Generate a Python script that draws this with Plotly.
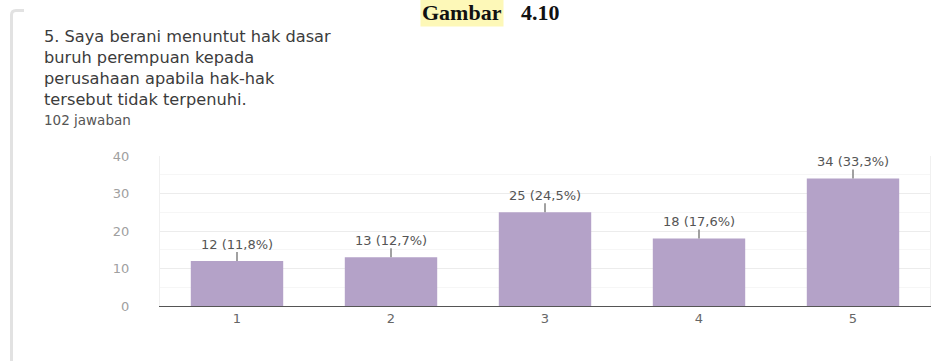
import plotly.graph_objects as go

# Survey responses for item 5 (scale 1-5), 102 answers in total
categories = ["1", "2", "3", "4", "5"]
counts = [12, 13, 25, 18, 34]
total_answers = 102
y_ticks = [0, 10, 20, 30, 40]

title_lines = [
    "5. Saya berani menuntut hak dasar",
    "buruh perempuan kepada",
    "perusahaan apabila hak-hak",
    "tersebut tidak terpenuhi.",
]
subtitle = f"{total_answers} jawaban"

W, H = 950, 361
ML, MR, MT, MB = 160, 20, 156, 55
PW, PH = W - ML - MR, H - MT - MB


def px(x):
    return (x - ML) / PW


def py(y):
    return (H - MB - y) / PH


bar_color = "#b4a2c8"
font_main = "DejaVu Sans"

fig = go.Figure(
    go.Bar(
        x=categories,
        y=counts,
        marker=dict(color=bar_color, line=dict(width=0)),
        hoverinfo="skip",
    )
)

annotations = []

# value labels with a short leader line above each bar
for i, n in enumerate(counts):
    pct = f"{n / total_answers * 100:.1f}".replace(".", ",")
    annotations.append(dict(
        x=i, y=n, xref="x", yref="y",
        text=f"{n} ({pct}%)",
        showarrow=True, arrowhead=0, arrowwidth=1.6, arrowcolor="#8a8a8a",
        ax=0, ay=-17, borderpad=0,
        font=dict(family=font_main, size=13, color="#555555"),
    ))

# question title (four lines)
annotations.append(dict(
    x=px(42), y=py(25), xref="paper", yref="paper",
    xanchor="left", yanchor="top", align="left", showarrow=False,
    text="<br>".join(title_lines),
    font=dict(family=font_main, size=16.2, color="#3c3c3c"),
))

annotations.append(dict(
    x=px(42), y=py(120), xref="paper", yref="paper",
    xanchor="left", yanchor="middle", showarrow=False,
    text=subtitle,
    font=dict(family=font_main, size=13.5, color="#555555"),
))

# figure caption at the top of the page
annotations.append(dict(
    x=px(420), y=py(-2), xref="paper", yref="paper",
    xanchor="left", yanchor="top", showarrow=False,
    text="<b>Gambar</b>", bgcolor="#fdf8b8", borderpad=1,
    font=dict(family="Liberation Serif", size=22, color="#111111"),
))
annotations.append(dict(
    x=px(519), y=py(-2), xref="paper", yref="paper",
    xanchor="left", yanchor="top", showarrow=False,
    text="<b>4.10</b>", borderpad=1,
    font=dict(family="Liberation Serif", size=22, color="#111111"),
))

# card outline on the left
shapes = [
    dict(
        type="path", xref="paper", yref="paper",
        path=f"M {px(11.5)},{py(361)} L {px(11.5)},{py(15)} "
             f"Q {px(11.5)},{py(10.5)} {px(16)},{py(10.5)} L {px(24)},{py(10.5)}",
        line=dict(color="#e2e2e2", width=3),
        layer="below",
    ),
]

fig.update_layout(
    width=W, height=H,
    margin=dict(l=ML, r=MR, t=MT, b=MB),
    paper_bgcolor="white",
    plot_bgcolor="white",
    bargap=0.4,
    showlegend=False,
    annotations=annotations,
    shapes=shapes,
    xaxis=dict(
        type="category",
        range=[-0.5, len(categories) - 0.5],
        showgrid=False,
        showline=True, linecolor="#555555", linewidth=1.3,
        ticks="",
        tickfont=dict(family=font_main, size=13, color="#666666"),
        fixedrange=True,
    ),
    yaxis=dict(
        range=[0, 40],
        tickvals=y_ticks,
        showgrid=True, gridcolor="#ececec", gridwidth=1,
        minor=dict(dtick=5, showgrid=True, gridcolor="#f6f6f6", gridwidth=1),
        zeroline=False,
        showline=True, linecolor="#f0f0f0", linewidth=1, mirror=True,
        ticks="",
        ticklabelstandoff=27,
        tickfont=dict(family=font_main, size=13, color="#a0a0a0"),
        fixedrange=True,
    ),
)

fig.write_html("out.html", config={"displayModeBar": False})
